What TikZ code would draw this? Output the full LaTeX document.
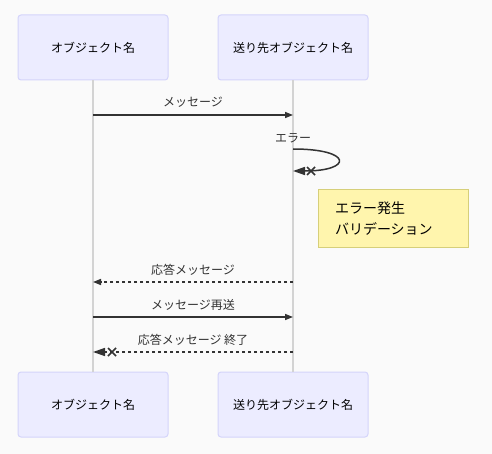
\documentclass[tikz,border=0pt]{standalone}
\usepackage{fontspec}
\newfontfamily\jpfont{Noto Sans CJK JP}
\usetikzlibrary{arrows.meta, positioning, calc}
\definecolor{sqbg}{HTML}{FAFAFA}
\definecolor{actorfill}{HTML}{ECECFF}
\definecolor{actorline}{HTML}{D4D4FA}
\definecolor{lifegray}{HTML}{D3D3D3}
\definecolor{msgline}{HTML}{333333}
\definecolor{notefill}{HTML}{FFF5AD}
\definecolor{noteline}{HTML}{D6CF7A}

\begin{document}
\begin{tikzpicture}[
    x=1pt, y=1pt,
    actor/.style={
        draw=actorline, fill=actorfill, rounded corners=3pt,
        minimum width=150pt, minimum height=65pt, line width=1pt,
        font=\jpfont\fontsize{12}{14}\selectfont, text=black
    },
    life/.style={draw=lifegray, line width=1.5pt},
    msg/.style={
        draw=msgline, line width=1.5pt,
        -{Triangle[length=8pt, width=6pt]}
    },
    crossmsg/.style={
        draw=msgline, line width=1.5pt,
        -{Triangle[length=12pt, width=8pt]}
    },
    reply/.style={dash pattern=on 3pt off 3pt},
    msglabel/.style={
        font=\jpfont\fontsize{12}{14}\selectfont, text=msgline, inner sep=0pt
    },
    crossmark/.style={draw=msgline, line width=1.5pt},
    notebox/.style={
        draw=noteline, fill=notefill, line width=1pt,
        minimum width=150pt, minimum height=57pt,
        text width=116pt, align=left, inner xsep=17pt,
        font=\jpfont\fontsize{14}{21}\selectfont, text=black
    },
]

% background / bounding box
\fill[sqbg] (0,0) rectangle (492,-454);
\useasboundingbox (0,0) rectangle (492,-454);

% ===================================================================
% ACTORS
% ===================================================================
\node[actor] (obj-top) at (93,-47.5) {オブジェクト名};
\node[actor] (dst-top) at (293,-47.5) {送り先オブジェクト名};
\node[actor] (obj-bot) at (93,-404.5) {オブジェクト名};
\node[actor] (dst-bot) at (293,-404.5) {送り先オブジェクト名};

% Lifelines
\draw[life] (obj-top.south) -- (obj-bot.north);
\draw[life] (dst-top.south) -- (dst-bot.north);

% ===================================================================
% MESSAGES
% ===================================================================
% Anchor points on the lifelines
\coordinate (obj-m1) at (obj-top.south |- 0,-115);
\coordinate (dst-m1) at (dst-top.south |- 0,-115);
\coordinate (dst-s1) at (dst-top.south |- 0,-149);
\coordinate (dst-s2) at (dst-top.south |- 0,-171);
\coordinate (obj-m3) at (obj-top.south |- 0,-282);
\coordinate (dst-m3) at (dst-top.south |- 0,-282);
\coordinate (obj-m4) at (obj-top.south |- 0,-317);
\coordinate (dst-m4) at (dst-top.south |- 0,-317);
\coordinate (obj-m5) at (obj-top.south |- 0,-352);
\coordinate (dst-m5) at (dst-top.south |- 0,-352);

% Request
\draw[msg] (obj-m1) -- (dst-m1)
    node[msglabel, midway, yshift=12.5pt] (lbl-m1) {メッセージ};

% Self call with error
\node[msglabel] (lbl-self) at ($(dst-s1)+(0,11)$) {エラー};
\draw[crossmsg] (dst-s1)
    .. controls ($(dst-s1)+(60,0)$) and ($(dst-s2)+(60,0)$) .. (dst-s2);
\coordinate (x-self) at ($(dst-s2)+(18,0)$);
\draw[crossmark] ($(x-self)+(-4,4)$) -- ($(x-self)+(4,-4)$)
                 ($(x-self)+(-4,-4)$) -- ($(x-self)+(4,4)$);

% Note
\node[notebox] (note) at (393,-218.5) {エラー発生\\バリデーション};

% Reply
\draw[msg, reply] (dst-m3) -- (obj-m3)
    node[msglabel, midway, yshift=12.5pt] (lbl-m3) {応答メッセージ};

% Resend
\draw[msg] (obj-m4) -- (dst-m4)
    node[msglabel, midway, yshift=12.5pt] (lbl-m4) {メッセージ再送};

% Final reply with cross
\draw[crossmsg, reply] (dst-m5) -- (obj-m5)
    node[msglabel, midway, yshift=12.5pt] (lbl-m5) {応答メッセージ 終了};
\coordinate (x-end) at ($(obj-m5)+(19,0)$);
\draw[crossmark] ($(x-end)+(-4,4)$) -- ($(x-end)+(4,-4)$)
                 ($(x-end)+(-4,-4)$) -- ($(x-end)+(4,4)$);

\end{tikzpicture}
\end{document}
